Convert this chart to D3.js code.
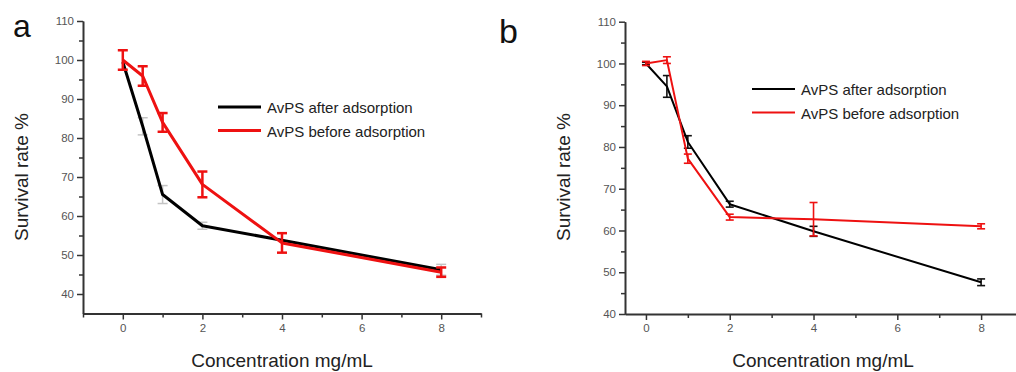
<!DOCTYPE html>
<html>
<head>
<meta charset="utf-8">
<script src="https://cdn.jsdelivr.net/npm/d3@7"></script>
<style>
  body { margin: 0; background: #fff; }
  svg { display: block; font-family: "Liberation Sans", Arial, sans-serif; }
  .tick text { fill: #555; font-size: 11.5px; }
  .domain, .tick line { stroke: #333; }
</style>
</head>
<body>
<svg width="1016" height="372"></svg>
<script>
// x values (mg/mL)
var conc = [0, 0.5, 1, 2, 4, 8];

// panel a
var aAfter = [99.5, 83, 65.5, 57.5, 53.8, 46.2];
var aAfterErr = [0, 2.2, 2.3, 0.9, 0, 1.4];
var aBefore = [100, 95.9, 84, 68.1, 53.1, 45.6];
var aBeforeErr = [2.5, 2.5, 2.4, 3.3, 2.5, 1.2];

// panel b
var bAfter = [100, 94.5, 81.2, 66.3, 59.8, 47.6];
var bAfterErr = [0.3, 2.6, 1.5, 0.7, 1.2, 0.8];
var bBefore = [100, 100.8, 77.2, 63.2, 62.7, 61];
var bBeforeErr = [0.5, 0.8, 1.1, 0.7, 4, 0.6];

var xTicks = [0, 2, 4, 6, 8];
var yTicks = [40, 50, 60, 70, 80, 90, 100, 110];
var seriesNames = ["AvPS after adsorption", "AvPS before adsorption"];

var svg = d3.select("svg");

function rows(vals, errs) {
  return conc.map(function(c, i) { return { x: c, y: vals[i], e: errs[i] }; });
}

var panels = [
  {
    letter: "a", letterX: 13, letterY: 37, letterSize: 32,
    xDomain: [-1, 9], xRange: [83, 481],
    yDomain: [35, 110], yRange: [313.5, 21],
    xMinor: [-1, 1, 3, 5, 7, 9], yMinor: [45, 55, 65, 75, 85, 95, 105],
    after: rows(aAfter, aAfterErr), before: rows(aBefore, aBeforeErr),
    lineW: 3, errW: 2.5, afterErrW: 1.5, cap: 5, afterErrColor: "#c4c4c4",
    legX: 218, legY: 107, yLabelX: 28, xLabelX: 282
  },
  {
    letter: "b", letterX: 499, letterY: 43, letterSize: 34,
    xDomain: [-0.5, 9], xRange: [625, 1023],
    yDomain: [40, 110], yRange: [314, 21.7],
    xMinor: [1, 3, 5, 7, 9], yMinor: [45, 55, 65, 75, 85, 95, 105],
    after: rows(bAfter, bAfterErr), before: rows(bBefore, bBeforeErr),
    lineW: 2, errW: 1.6, afterErrW: 1.6, cap: 4, afterErrColor: "#111",
    legX: 752, legY: 89, yLabelX: 570, xLabelX: 823
  }
];

panels.forEach(function(p) {
  var x = d3.scaleLinear().domain(p.xDomain).range(p.xRange);
  var y = d3.scaleLinear().domain(p.yDomain).range(p.yRange);
  var g = svg.append("g");

  // minor ticks
  g.append("g")
    .attr("transform", "translate(0," + p.yRange[0] + ")")
    .call(d3.axisBottom(x).tickValues(p.xMinor).tickSize(4).tickSizeOuter(0).tickFormat(""))
    .selectAll("line").attr("stroke-width", 1.5);
  g.append("g")
    .attr("transform", "translate(" + p.xRange[0] + ",0)")
    .call(d3.axisLeft(y).tickValues(p.yMinor).tickSize(4).tickSizeOuter(0).tickFormat(""))
    .selectAll("line").attr("stroke-width", 1.5);

  // main axes
  var xa = g.append("g")
    .attr("transform", "translate(0," + p.yRange[0] + ")")
    .call(d3.axisBottom(x).tickValues(xTicks).tickSize(6).tickSizeOuter(0).tickPadding(4));
  xa.select(".domain").attr("stroke-width", 2);
  xa.selectAll(".tick line").attr("stroke-width", 1.5);

  var ya = g.append("g")
    .attr("transform", "translate(" + p.xRange[0] + ",0)")
    .call(d3.axisLeft(y).tickValues(yTicks).tickSize(6).tickSizeOuter(0).tickPadding(3));
  ya.select(".domain").attr("stroke-width", 2);
  ya.selectAll(".tick line").attr("stroke-width", 1.5);

  var line = d3.line().x(function(d) { return x(d.x); }).y(function(d) { return y(d.y); });

  function drawSeries(data, color, errColor, errW) {
    var eb = g.append("g").selectAll("g").data(data.filter(function(d) { return d.e > 0; }))
      .enter().append("g")
      .attr("stroke", errColor).attr("stroke-width", errW);
    eb.append("line")
      .attr("x1", function(d) { return x(d.x); }).attr("x2", function(d) { return x(d.x); })
      .attr("y1", function(d) { return y(d.y - d.e); }).attr("y2", function(d) { return y(d.y + d.e); });
    [-1, 1].forEach(function(s) {
      eb.append("line")
        .attr("x1", function(d) { return x(d.x) - p.cap; }).attr("x2", function(d) { return x(d.x) + p.cap; })
        .attr("y1", function(d) { return y(d.y + s * d.e); }).attr("y2", function(d) { return y(d.y + s * d.e); });
    });
    g.append("path").datum(data)
      .attr("fill", "none").attr("stroke", color)
      .attr("stroke-width", p.lineW).attr("stroke-linejoin", "round")
      .attr("d", line);
  }

  drawSeries(p.after, "#000", p.afterErrColor, p.afterErrW);
  drawSeries(p.before, "#ee1111", "#ee1111", p.errW);

  // legend
  [["#000", seriesNames[0]], ["#ee1111", seriesNames[1]]].forEach(function(s, i) {
    var ly = p.legY + i * 23.5;
    g.append("line")
      .attr("x1", p.legX).attr("x2", p.legX + 43)
      .attr("y1", ly).attr("y2", ly)
      .attr("stroke", s[0]).attr("stroke-width", p.lineW);
    g.append("text")
      .attr("x", p.legX + 49).attr("y", ly + 6)
      .attr("font-size", 15).attr("fill", "#222")
      .text(s[1]);
  });

  // labels
  g.append("text")
    .attr("x", p.letterX).attr("y", p.letterY)
    .attr("font-size", p.letterSize).attr("fill", "#111")
    .text(p.letter);

  g.append("text")
    .attr("transform", "translate(" + p.yLabelX + ",177) rotate(-90)")
    .attr("text-anchor", "middle")
    .attr("font-size", 19).attr("fill", "#222")
    .text("Survival rate %");

  g.append("text")
    .attr("x", p.xLabelX).attr("y", 367)
    .attr("text-anchor", "middle")
    .attr("font-size", 19).attr("fill", "#222")
    .text("Concentration mg/mL");
});
</script>
</body>
</html>
